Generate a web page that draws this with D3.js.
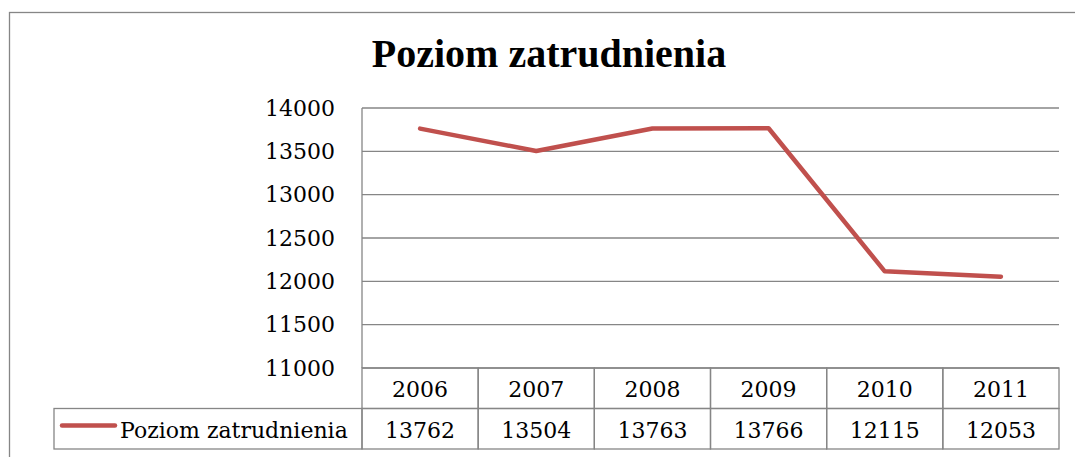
<!DOCTYPE html>
<html>
<head>
<meta charset="utf-8">
<script src="https://cdn.jsdelivr.net/npm/d3@7"></script>
<style>
  body { margin: 0; background: #fff; }
  svg text { fill: #000; }
</style>
</head>
<body>
<div id="plot"></div>
<script>
const w = 1075;
const h = 457;

const years = ["2006", "2007", "2008", "2009", "2010", "2011"];
const employment = [13762, 13504, 13763, 13766, 12115, 12053];
const yTicks = [11000, 11500, 12000, 12500, 13000, 13500, 14000];
const seriesName = "Poziom zatrudnienia";
const title = "Poziom zatrudnienia";

const plot = { left: 362, right: 1059, top: 108, bottom: 368 };
const rowH = 40.5;
const legendLeft = 54;
const gridColor = "#868686";
const lineColor = "#C0504D";
const titleFont = "'Liberation Serif', serif";
const bodyFont = "'DejaVu Serif', serif";
const bodySize = "22px";

const svg = d3.select("div#plot")
  .append("svg")
  .attr("width", w)
  .attr("height", h);

// outer chart border (runs off the right and bottom edges)
svg.append("rect")
  .attr("x", 9.5)
  .attr("y", 12.5)
  .attr("width", w + 20)
  .attr("height", h + 20)
  .attr("fill", "none")
  .attr("stroke", gridColor)
  .attr("stroke-width", 1.3);

svg.append("text")
  .attr("x", 549)
  .attr("y", 67)
  .attr("text-anchor", "middle")
  .style("font-family", titleFont)
  .attr("font-size", "40px")
  .attr("font-weight", "bold")
  .text(title);

const xScale = d3.scaleBand()
  .domain(years)
  .range([plot.left, plot.right]);

const yScale = d3.scaleLinear()
  .domain([11000, 14000])
  .range([plot.bottom, plot.top]);

// horizontal gridlines
svg.append("g")
  .selectAll("line")
  .data(yTicks)
  .enter()
  .append("line")
  .attr("x1", plot.left)
  .attr("x2", plot.right)
  .attr("y1", d => yScale(d))
  .attr("y2", d => yScale(d))
  .attr("stroke", gridColor)
  .attr("stroke-width", 1.3);

// left edge of plot area
svg.append("line")
  .attr("x1", plot.left).attr("x2", plot.left)
  .attr("y1", plot.top).attr("y2", plot.bottom)
  .attr("stroke", gridColor)
  .attr("stroke-width", 1.3);

const yAxis = d3.axisLeft(yScale)
  .tickValues(yTicks)
  .tickSize(0)
  .tickPadding(27)
  .tickFormat(d3.format("d"));

const yAxisG = svg.append("g")
  .attr("transform", `translate(${plot.left}, 0)`)
  .call(yAxis)
  .attr("font-family", null)
  .attr("font-size", null);
yAxisG.select(".domain").remove();
yAxisG.selectAll("text")
  .style("font-family", bodyFont)
  .attr("font-size", bodySize)
  .attr("fill", "#000");

// data line
const line = d3.line()
  .x((d, i) => xScale(years[i]) + xScale.bandwidth() / 2)
  .y(d => yScale(d));

svg.append("path")
  .datum(employment)
  .attr("d", line)
  .attr("fill", "none")
  .attr("stroke", lineColor)
  .attr("stroke-width", 4.5)
  .attr("stroke-linecap", "round")
  .attr("stroke-linejoin", "round");

// data table
const row1Top = plot.bottom;
const row2Top = plot.bottom + rowH;
const table = svg.append("g");

table.selectAll("rect.year")
  .data(years)
  .enter()
  .append("rect")
  .attr("class", "year")
  .attr("x", d => xScale(d))
  .attr("y", row1Top)
  .attr("width", xScale.bandwidth())
  .attr("height", rowH)
  .attr("fill", "none")
  .attr("stroke", gridColor)
  .attr("stroke-width", 1.3);

table.selectAll("rect.val")
  .data(years)
  .enter()
  .append("rect")
  .attr("class", "val")
  .attr("x", d => xScale(d))
  .attr("y", row2Top)
  .attr("width", xScale.bandwidth())
  .attr("height", rowH)
  .attr("fill", "none")
  .attr("stroke", gridColor)
  .attr("stroke-width", 1.3);

table.append("rect")
  .attr("x", legendLeft)
  .attr("y", row2Top)
  .attr("width", plot.left - legendLeft)
  .attr("height", rowH)
  .attr("fill", "none")
  .attr("stroke", gridColor)
  .attr("stroke-width", 1.3);

table.selectAll("text.year")
  .data(years)
  .enter()
  .append("text")
  .attr("class", "year")
  .attr("x", d => xScale(d) + xScale.bandwidth() / 2)
  .attr("y", row1Top + 29)
  .attr("text-anchor", "middle")
  .style("font-family", bodyFont)
  .attr("font-size", bodySize)
  .text(d => d);

table.selectAll("text.val")
  .data(employment)
  .enter()
  .append("text")
  .attr("class", "val")
  .attr("x", (d, i) => xScale(years[i]) + xScale.bandwidth() / 2)
  .attr("y", row2Top + 29)
  .attr("text-anchor", "middle")
  .style("font-family", bodyFont)
  .attr("font-size", bodySize)
  .text(d => d);

// legend key inside the table
table.append("line")
  .attr("x1", 62).attr("x2", 115)
  .attr("y1", row2Top + 17).attr("y2", row2Top + 17)
  .attr("stroke", lineColor)
  .attr("stroke-width", 4.5)
  .attr("stroke-linecap", "round");

table.append("text")
  .attr("x", 120)
  .attr("y", row2Top + 29)
  .style("font-family", bodyFont)
  .attr("font-size", bodySize)
  .text(seriesName);
</script>
</body>
</html>
